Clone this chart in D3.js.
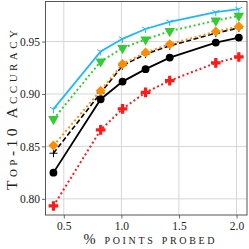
<!DOCTYPE html>
<html>
<head>
<meta charset="utf-8">
<script src="https://cdn.jsdelivr.net/npm/d3@7"></script>
<style>
  body { margin: 0; background: #fff; }
  text { font-family: "Liberation Serif", serif; fill: #222; }
</style>
</head>
<body>
<script>
const probed = [0.41, 0.82, 1.01, 1.21, 1.42, 1.82, 2.02];
const cyanAcc   = [0.8855, 0.9405, 0.9526, 0.962, 0.9688, 0.978, 0.981];
const greenAcc  = [0.876, 0.931, 0.9437, 0.952, 0.960, 0.970, 0.9745];
const orangeAcc = [0.8508, 0.9032, 0.9287, 0.9395, 0.9475, 0.9595, 0.9643];
const plusAcc   = [0.8435, 0.901, 0.927, 0.938, 0.946, 0.958, 0.963];
const blackAcc  = [0.825, 0.895, 0.9118, 0.9237, 0.9347, 0.949, 0.9538];
const redAcc    = [0.7932, 0.8657, 0.8858, 0.9015, 0.9127, 0.9296, 0.9353];
const xTicks = [0.5, 1.0, 1.5, 2.0];
const yTicks = [0.80, 0.85, 0.90, 0.95];

const W = 249, H = 249;
const margin = { top: 1.5, right: 2, bottom: 34, left: 45.5 };
const iw = W - margin.left - margin.right;
const ih = H - margin.top - margin.bottom;

const svg = d3.select("body").append("svg")
    .attr("width", W)
    .attr("height", H);

const g = svg.append("g")
    .attr("transform", "translate(" + margin.left + "," + margin.top + ")");

const x = d3.scaleLinear().domain([0.341, 2.091]).range([0, iw]);
const y = d3.scaleLinear().domain([0.7846, 0.9882]).range([ih, 0]);

// grid
g.selectAll(".gx").data(xTicks).enter().append("line")
    .attr("x1", d => x(d)).attr("x2", d => x(d))
    .attr("y1", 0).attr("y2", ih)
    .attr("stroke", "#d6d6d6").attr("stroke-width", 1);
g.selectAll(".gy").data(yTicks).enter().append("line")
    .attr("y1", d => y(d)).attr("y2", d => y(d))
    .attr("x1", 0).attr("x2", iw)
    .attr("stroke", "#d6d6d6").attr("stroke-width", 1);

// axes
const xAxis = g.append("g")
    .attr("transform", "translate(0," + ih + ")")
    .call(d3.axisBottom(x).tickValues(xTicks).tickFormat(d3.format(".1f")).tickSize(3.5).tickPadding(3));
const yAxis = g.append("g")
    .call(d3.axisLeft(y).tickValues(yTicks).tickFormat(d3.format(".2f")).tickSize(3.5).tickPadding(2));
[xAxis, yAxis].forEach(a => {
    a.attr("font-family", null).attr("font-size", null);
    a.select(".domain").remove();
    a.selectAll("line").attr("stroke", "#444").attr("stroke-width", 0.8);
    a.selectAll("text").style("font-family", "Liberation Serif, serif")
        .style("font-size", "11.5px").attr("fill", "#333");
});

const line = d3.line().x(d => x(d[0])).y(d => y(d[1]));
const pts = vals => probed.map((p, i) => [p, vals[i]]);

function series(vals, color, dash, width) {
    g.append("path")
        .datum(pts(vals))
        .attr("d", line)
        .attr("fill", "none")
        .attr("stroke", color)
        .attr("stroke-width", width)
        .attr("stroke-dasharray", dash);
}

function markers(vals, symbol, size, fill, stroke, sw, rot) {
    g.selectAll(null).data(pts(vals)).enter().append("path")
        .attr("d", d3.symbol().type(symbol).size(size))
        .attr("transform", d => "translate(" + x(d[0]) + "," + y(d[1]) + ") rotate(" + (rot || 0) + ")")
        .attr("fill", fill)
        .attr("stroke", stroke)
        .attr("stroke-width", sw);
}

const triY = {
    draw(ctx, size) {
        const r = Math.sqrt(size) / 2;
        for (const a of [90, 210, 330]) {
            const t = a * Math.PI / 180;
            ctx.moveTo(0, 0);
            ctx.lineTo(r * Math.cos(t), r * Math.sin(t));
        }
    }
};
const thinPlus = {
    draw(ctx, size) {
        const r = Math.sqrt(size) / 2;
        ctx.moveTo(-r, 0); ctx.lineTo(r, 0);
        ctx.moveTo(0, -r); ctx.lineTo(0, r);
    }
};

// red dotted, thick plus
series(redAcc, "#ff1a1a", "2,2.6", 2);
markers(redAcc, d3.symbolCross, 52, "#ff1a1a", "none", 0);

// black solid, circles
series(blackAcc, "#000", null, 1.8);
markers(blackAcc, d3.symbolCircle, 48, "#000", "none", 0);

// black dashed, thin plus
series(plusAcc, "#000", "5,2.5", 1.6);
markers(plusAcc, thinPlus, 64, "none", "#000", 1);

// orange dotted, diamonds
series(orangeAcc, "#ff8c00", "2,2.6", 2);
markers(orangeAcc, d3.symbolSquare, 50, "#ff8c00", "none", 0, 45);

// green dotted, triangle down
series(greenAcc, "#33cc33", "2,2.6", 2);
markers(greenAcc, d3.symbolTriangle, 48, "#33cc33", "none", 0, 180);

// cyan solid, tri-down
series(cyanAcc, "#1ab8ff", null, 1.8);
markers(cyanAcc, triY, 64, "none", "#1ab8ff", 1);

// frame
g.append("rect")
    .attr("width", iw).attr("height", ih)
    .attr("fill", "none").attr("stroke", "#555").attr("stroke-width", 1);

// labels: small caps, spread to the width they take in the original
svg.append("text")
    .attr("x", 149)
    .attr("y", 243.5)
    .attr("text-anchor", "middle")
    .attr("textLength", 131)
    .attr("lengthAdjust", "spacing")
    .style("font-size", "14.5px")
    .style("font-variant", "small-caps")
    .text("% points probed");

svg.append("text")
    .attr("transform", "translate(17,110) rotate(-90)")
    .attr("text-anchor", "middle")
    .attr("textLength", 160)
    .attr("lengthAdjust", "spacing")
    .style("font-size", "15.5px")
    .style("font-variant", "small-caps")
    .text("Top-10 Accuracy");
</script>
</body>
</html>
